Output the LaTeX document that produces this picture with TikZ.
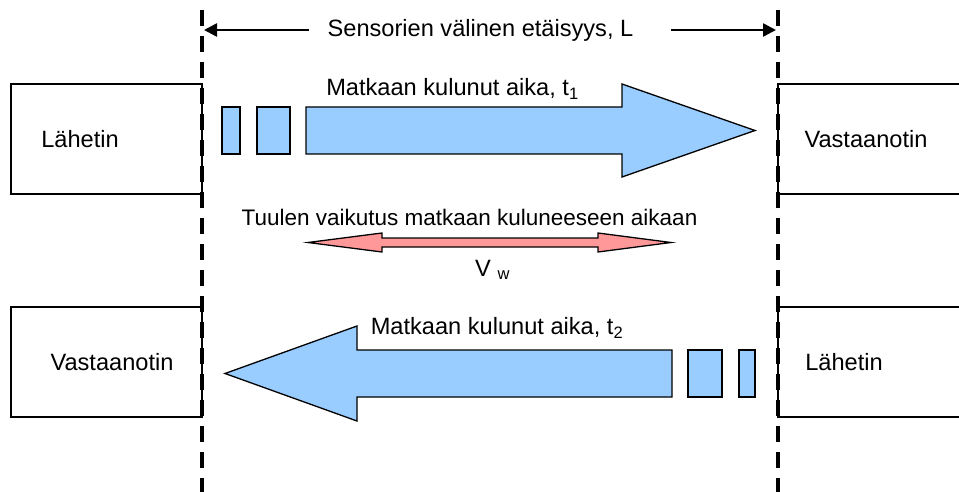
\documentclass[tikz,border=0pt]{standalone}
\usepackage{fontspec}
\setmainfont{Liberation Sans}
\usetikzlibrary{arrows.meta}
\definecolor{lblue}{HTML}{99CCFF}
\definecolor{lred}{HTML}{FF9999}
\begin{document}
\begin{tikzpicture}[x=1pt,y=-1pt,
  txt/.style={font=\fontsize{23.6}{26}\selectfont, inner sep=0pt},
  box/.style={draw, line width=1.3pt, minimum width=191pt, minimum height=110pt, inner sep=0pt},
  bigarrow/.style={draw, line width=1.3pt, fill=lblue},
  redarrow/.style={draw, line width=1.3pt, fill=lred},
  sepline/.style={line width=4pt, dash pattern=on 16pt off 10pt},
  dimarrow/.style={line width=2.5pt, -{Triangle[length=13pt,width=13pt]}}]
\useasboundingbox (0,0) rectangle (959,492);
% boxes
\node[box] (b1) at (106.5,139) {};
\node[box] (b2) at (873.5,139) {};
\node[box] (b3) at (106.5,362) {};
\node[box] (b4) at (873.5,362) {};
\node[txt] (t1) at (80,139) {Lähetin};
\node[txt] (t2) at (866,139) {Vastaanotin};
\node[txt] (t3) at (112,362) {Vastaanotin};
\node[txt] (t4) at (844,362) {Lähetin};
% separator lines
\coordinate (lt) at (202,10);
\coordinate (lb) at (202,492);
\coordinate (rt) at (778,10);
\coordinate (rb) at (778,492);
\draw[sepline] (lt) -- (lb);
\draw[sepline] (rt) -- (rb);
% distance
\node[txt] (dist) at (480.5,30) {Sensorien välinen etäisyys, L};
\coordinate (dL) at (204,30);
\coordinate (dR) at (776,30);
\draw[dimarrow] ([xshift=-18pt]dist.west) -- (dL);
\draw[dimarrow] ([xshift=37pt]dist.east) -- (dR);
% top arrow
\draw[bigarrow] (222,107) rectangle (240,154);
\draw[bigarrow] (257,107) rectangle (290,154);
\draw[bigarrow] (306,107) -- (622,107) -- (622,84) -- (755,130.5) -- (622,177) -- (622,154) -- (306,154) -- cycle;
\node[txt] (m1) at (452.5,89) {Matkaan kulunut aika, t\textsubscript{1}};
% wind
\node[txt, font=\fontsize{22.5}{25}\selectfont] (w) at (469.5,217) {Tuulen vaikutus matkaan kuluneeseen aikaan};
\draw[redarrow] (308,242.5) -- (382,233) -- (382,238) -- (598,238) -- (598,233) -- (671,242.5) -- (598,252) -- (598,247) -- (382,247) -- (382,252) -- cycle;
\node[txt, anchor=base west] (vw) at (475,276) {V \textsubscript{w}};
% bottom arrow
\draw[bigarrow] (688,350) rectangle (722,397);
\draw[bigarrow] (739,350) rectangle (755,397);
\draw[bigarrow] (672,350) -- (357,350) -- (357,326) -- (225,373.5) -- (357,421) -- (357,397) -- (672,397) -- cycle;
\node[txt] (m2) at (497,328) {Matkaan kulunut aika, t\textsubscript{2}};
\end{tikzpicture}
\end{document}
